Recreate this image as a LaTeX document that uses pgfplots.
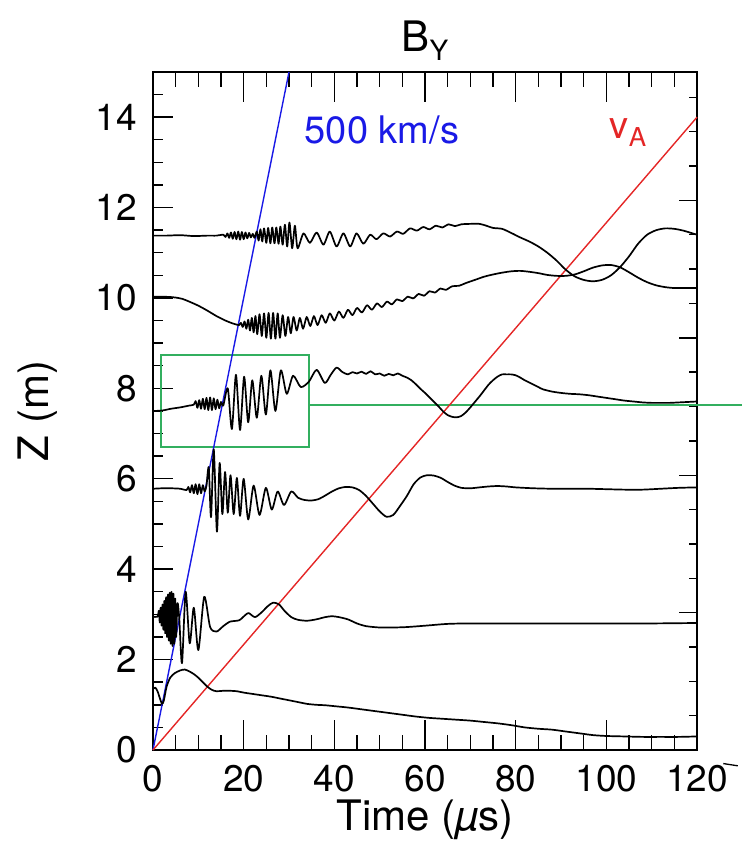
\documentclass[border=0pt]{standalone}
\usepackage{pgfplots}
\pgfplotsset{compat=1.18}
\usepackage{fontspec}
\setmainfont{TeX Gyre Heros}
\definecolor{wblue}{RGB}{25,25,230}
\definecolor{wred}{RGB}{228,38,38}
\definecolor{wgreen}{RGB}{50,175,95}

\pgfplotsset{
  frame/.style={scale only axis, width=544pt, height=678pt, xmin=0, xmax=120},
  trace/.style={black, line width=1.7pt, line join=round, no markers, smooth, tension=0.45},
}

\begin{document}
\begin{tikzpicture}
\path[use as bounding box] (-153pt,-98pt) rectangle (589pt,750pt);

% right-hand scale (ticks only)
\begin{axis}[frame, ymin=0, ymax=19.74, axis line style={draw=none},
  xtick=\empty, ytick pos=right, ytick={4,8,12,16}, minor ytick={1,...,19},
  yticklabels={}, tick align=inside, major tick length=18pt, minor tick length=8pt,
  tick style={black, line width=1.4pt}]
\end{axis}

% time ticks, bottom and top
\begin{axis}[frame, ymin=0, ymax=15, axis line style={draw=none},
  ytick=\empty, xtick={0,20,...,120}, minor xtick={5,10,...,115}, xticklabels={},
  xtick pos=both, tick align=inside, major tick length=30pt, minor tick length=15pt,
  tick style={black, line width=1.4pt}]
\end{axis}

\begin{axis}[frame, ymin=0, ymax=15, clip=false,
  axis line style={line width=1.7pt},
  tick style={black, line width=1.4pt},
  xtick={0,20,...,120}, xtick style={draw=none},
  ytick={0,2,...,14}, minor ytick={0.5,1,...,14.5}, ytick pos=left,
  tick align=inside, major tick length=20pt, minor tick length=10pt,
  ticklabel style={font=\fontsize{37}{40}\selectfont, inner sep=0pt},
  xticklabel style={yshift=-15pt},
  yticklabel style={xshift=-16pt},
  /pgf/number format/assume math mode=true,
  xlabel={Time (\textit{µ}s)},
  xlabel style={at={(axis description cs:0.5,0)}, anchor=center, yshift=-70pt,
    font=\fontsize{42}{46}\selectfont},
  ylabel={Z (m)},
  ylabel style={at={(axis description cs:0,0.5)}, anchor=center, yshift=115pt,
    font=\fontsize{42}{46}\selectfont},
]

% inset frame and marker line
\draw[wgreen, line width=1.4pt] (axis cs:1.8,6.70) rectangle (axis cs:34.4,8.74);
\draw[wgreen, line width=1.4pt] (axis cs:34.4,7.63) -- (axis cs:130,7.63);

% propagation lines
\addplot[wblue, line width=1.4pt, no markers] coordinates {(0,0) (30,15)};
\addplot[wred, line width=1.4pt, no markers] coordinates {(0,0) (120,14)};

% Z = 11.4 m
\addplot[trace] coordinates {
(0,11.38)(3,11.38)(6,11.39)(9,11.37)(12,11.38)(14,11.38)(15.5,11.40)(16.0,11.35)(16.4,11.43)(16.8,11.33)(17.2,11.45)(17.6,11.31)(18.0,11.46)(18.4,11.30)(18.8,11.47)(19.2,11.29)(19.6,11.46)(20.0,11.30)(20.4,11.45)(20.8,11.32)(21.2,11.44)(21.6,11.34)(22.0,11.42)(22.4,11.33)(22.9,11.47)(23.3,11.27)(23.7,11.52)(24.1,11.25)(24.5,11.54)(25.0,11.22)(25.4,11.55)(25.9,11.21)(26.3,11.56)(26.8,11.21)(27.2,11.56)(27.7,11.20)(28.1,11.58)(28.6,11.18)(29.1,11.62)(29.6,11.14)(30.1,11.67)(30.7,11.10)(31.3,11.60)(31.9,11.10)(33.2,11.43)(34.6,11.22)(36.1,11.45)(37.6,11.18)(39.0,11.47)(40.5,11.14)(42.0,11.43)(43.5,11.14)(44.9,11.43)(46.4,11.20)(47.9,11.40)(49.3,11.30)(50.8,11.43)(52.3,11.36)(53.8,11.47)(55.2,11.42)(56.7,11.54)(58.2,11.49)(59.6,11.57)(61.0,11.52)(62.4,11.60)(63.8,11.56)(65.2,11.63)(66.6,11.59)(68,11.63)(70,11.64)(72,11.64)(73.5,11.60)(75,11.55)(77,11.53)(79,11.44)(81,11.34)(83,11.25)(85,11.14)(87,11.00)(89,10.83)(91,10.63)(93,10.48)(95,10.40)(97,10.37)(99,10.40)(101,10.50)(103,10.68)(105,10.92)(107,11.20)(109,11.40)(111,11.50)(113,11.54)(115,11.53)(117,11.49)(119,11.43)(120,11.40)
};

% Z = 10.0 m
\addplot[trace] coordinates {
(0,10.03)(2,10.03)(4,10.02)(5,10.01)(6.5,9.98)(8,9.92)(10,9.83)(12,9.72)(14,9.60)(16,9.50)(17.5,9.44)(18.5,9.41)(19.0,9.40)(19.4,9.45)(19.8,9.36)(20.2,9.48)(20.6,9.32)(21.0,9.52)(21.4,9.28)(21.8,9.56)(22.2,9.24)(22.6,9.60)(23.0,9.20)(23.5,9.64)(24.0,9.16)(24.5,9.66)(25.0,9.12)(25.5,9.67)(26.0,9.10)(26.5,9.67)(27.0,9.10)(27.5,9.66)(28.0,9.12)(28.6,9.62)(29.2,9.16)(29.8,9.58)(30.4,9.22)(31.0,9.58)(31.7,9.28)(32.4,9.56)(33.1,9.32)(33.9,9.58)(34.7,9.38)(35.5,9.60)(36.3,9.40)(37.2,9.62)(38.1,9.45)(39.0,9.66)(40.0,9.50)(41.0,9.70)(42.0,9.56)(43.0,9.74)(44.0,9.62)(45.0,9.78)(46.1,9.68)(47.2,9.84)(48.3,9.74)(49.4,9.88)(50.5,9.80)(51.6,9.92)(52.7,9.86)(53.8,9.97)(55.0,9.93)(56.2,10.03)(57.4,9.99)(58.6,10.09)(59.8,10.05)(61.0,10.15)(62.2,10.12)(63.4,10.21)(64.6,10.18)(66,10.26)(67.5,10.27)(69,10.33)(71,10.40)(73,10.47)(75,10.52)(77,10.56)(79,10.59)(81,10.60)(83,10.58)(85,10.55)(87,10.51)(89,10.49)(91,10.49)(93,10.52)(95,10.59)(97,10.67)(99,10.72)(101,10.73)(103,10.68)(105,10.57)(107,10.45)(109,10.35)(111,10.28)(113,10.24)(115,10.22)(117,10.22)(120,10.22)
};

% Z = 7.5 m
\addplot[trace] coordinates {
(0,7.50)(2,7.51)(4,7.55)(6,7.58)(8,7.62)(9,7.64)(9.4,7.72)(9.8,7.57)(10.2,7.74)(10.6,7.55)(11.0,7.77)(11.4,7.54)(11.8,7.79)(12.2,7.52)(12.6,7.80)(13.0,7.52)(13.4,7.78)(13.8,7.54)(14.2,7.75)(14.6,7.56)(15.0,7.70)(15.5,7.62)(16.5,8.00)(17.4,7.10)(18.3,8.30)(19.2,7.08)(20.1,8.26)(21.0,7.25)(21.9,8.18)(22.9,7.35)(23.9,8.28)(24.9,7.42)(25.9,8.40)(27.0,7.50)(28.2,8.40)(29.5,7.88)(30.9,8.28)(32.6,8.03)(34.4,8.15)(36.1,8.41)(37.9,8.12)(39.2,8.30)(40.5,8.46)(41.8,8.36)(43,8.31)(44,8.36)(45,8.33)(46,8.37)(47,8.32)(48,8.38)(49,8.31)(50,8.33)(51,8.28)(52,8.32)(53,8.29)(54,8.33)(55,8.28)(56,8.24)(57,8.18)(58,8.09)(59,7.99)(60,7.90)(61,7.80)(62,7.70)(63,7.60)(64,7.49)(65,7.41)(66,7.37)(67,7.36)(68,7.39)(69,7.47)(70,7.58)(71,7.70)(72,7.82)(73,7.95)(74,8.08)(75,8.18)(76,8.26)(77,8.31)(78,8.31)(79,8.31)(80,8.29)(81,8.24)(82,8.18)(83,8.13)(84,8.08)(85,8.03)(86,7.98)(88,7.93)(90,7.90)(92,7.88)(94,7.87)(96,7.85)(98,7.82)(100,7.79)(102,7.76)(104,7.73)(106,7.71)(108,7.69)(110,7.68)(112,7.68)(114,7.68)(116,7.69)(118,7.70)(120,7.71)
};

% Z = 5.8 m
\addplot[trace] coordinates {
(0,5.78)(2,5.79)(4,5.79)(6,5.78)(7.4,5.75)(7.8,5.82)(8.2,5.70)(8.6,5.86)(9.0,5.68)(9.4,5.88)(9.8,5.66)(10.2,5.88)(10.6,5.68)(11.0,5.86)(11.4,5.72)(11.8,5.85)(12.3,6.25)(12.8,5.15)(13.4,6.65)(14.1,4.83)(14.7,6.35)(15.3,5.22)(15.9,6.15)(16.5,5.25)(17.1,6.08)(17.8,5.22)(18.5,6.02)(19.2,5.18)(20.0,6.00)(21.0,5.10)(22.2,5.85)(23.5,5.20)(24.9,5.80)(26.2,5.32)(27.5,5.72)(28.9,5.42)(30.5,5.72)(32.0,5.58)(33.5,5.53)(35,5.52)(36.5,5.55)(38,5.63)(39.5,5.72)(41,5.79)(42.5,5.82)(44,5.81)(45.5,5.75)(47,5.62)(48.5,5.45)(50,5.28)(51.5,5.16)(53,5.20)(54.5,5.40)(56,5.62)(57.5,5.88)(59,6.03)(60.5,6.08)(62,6.07)(63.5,6.02)(65,5.93)(66.5,5.85)(68,5.80)(70,5.79)(72,5.81)(74,5.83)(76,5.84)(78,5.83)(80,5.81)(84,5.79)(88,5.78)(92,5.78)(96,5.78)(100,5.77)(104,5.76)(108,5.76)(112,5.78)(116,5.80)(120,5.81)
};

% Z = 2.9 m
\addplot[trace] coordinates {
(0,2.95)(1.0,2.95)(1.3,3.08)(1.5,2.82)(1.7,3.15)(1.9,2.75)(2.1,3.22)(2.3,2.66)(2.5,3.30)(2.7,2.58)(2.9,3.38)(3.1,2.50)(3.3,3.44)(3.5,2.42)(3.7,3.48)(3.9,2.35)(4.1,3.50)(4.3,2.30)(4.5,3.46)(4.7,2.35)(4.9,3.35)(5.1,2.50)(5.4,3.25)(5.8,2.90)(6.4,1.92)(7.2,3.50)(8.1,2.36)(9.0,3.15)(10.0,2.21)(11.3,3.39)(12.6,2.72)(14.0,2.62)(15.5,2.74)(17,2.84)(19,2.87)(20.3,2.98)(21.1,3.03)(22.5,2.94)(24.0,3.05)(25.3,3.18)(26.5,3.26)(27.8,3.22)(29.0,3.08)(30.5,2.94)(32,2.88)(34,2.86)(36,2.89)(38,2.94)(39.5,2.96)(41,2.94)(43,2.89)(45,2.80)(47,2.74)(50,2.71)(53,2.71)(56,2.72)(60,2.75)(65,2.79)(70,2.80)(80,2.80)(90,2.80)(100,2.80)(110,2.80)(120,2.81)
};

% Z = 1.3 m
\addplot[trace] coordinates {
(0,1.35)(0.5,1.38)(1.0,1.30)(1.5,1.15)(2.0,1.02)(2.4,1.10)(3.0,1.40)(3.8,1.60)(4.8,1.70)(6.0,1.76)(7.0,1.78)(8.0,1.74)(9.0,1.68)(10.0,1.60)(11.0,1.50)(12.0,1.40)(13.0,1.33)(14.0,1.30)(15.5,1.31)(17,1.31)(18.5,1.30)(20,1.27)(22,1.24)(24,1.21)(26,1.18)(28,1.14)(30,1.10)(32,1.06)(34,1.02)(36,1.00)(38,0.99)(40,0.97)(43,0.94)(46,0.90)(49,0.86)(52,0.82)(55,0.78)(58,0.74)(61,0.71)(64,0.69)(67,0.67)(70,0.65)(73,0.62)(76,0.59)(79,0.55)(82,0.50)(85,0.47)(88,0.45)(91,0.41)(94,0.37)(97,0.33)(100,0.31)(104,0.30)(108,0.29)(112,0.29)(116,0.29)(120,0.30)
};

\node[text=wblue, font=\fontsize{38}{40}\selectfont] at (axis cs:50.5,13.72) {500 km/s};
\node[text=wred, font=\fontsize{38}{40}\selectfont] at (axis cs:104.8,13.65)
  {v\raisebox{-8pt}{\fontsize{26}{28}\selectfont A}};
\node[anchor=base, font=\fontsize{42}{46}\selectfont] at (rel axis cs:0.5,1) [yshift=20pt]
  {B\raisebox{-9pt}{\fontsize{28}{30}\selectfont Y}};
\draw[black, line width=1.3pt] (axis cs:125.8,-0.30) -- (axis cs:129,-0.35);
\end{axis}
\end{tikzpicture}
\end{document}
